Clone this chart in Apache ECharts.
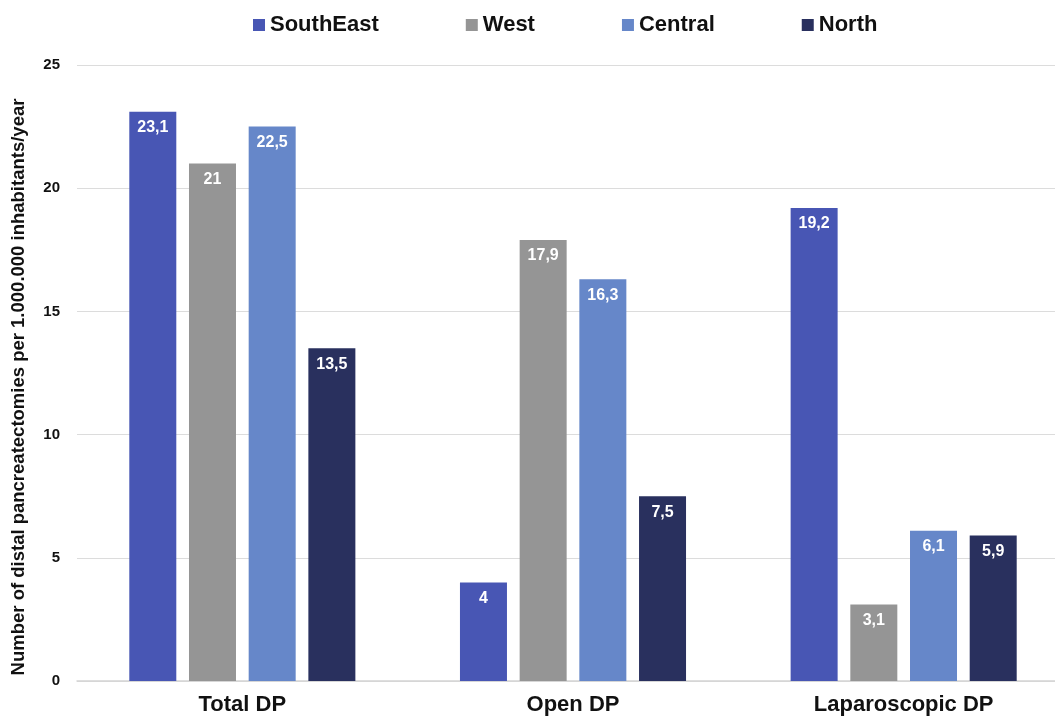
<!DOCTYPE html>
<html>
<head>
<meta charset="utf-8">
<script src="https://cdn.jsdelivr.net/npm/echarts@6/dist/echarts.min.js"></script>
<style>
  html, body { margin: 0; padding: 0; background: #fff; overflow: hidden; }
  /* the plot area runs a little past the right edge of the window */
  #chart { width: 1069px; height: 718px; }
</style>
</head>
<body>
<div id="chart"></div>
<script>
// Distal pancreatectomy rates by region
const categories = ['Total DP', 'Open DP', 'Laparoscopic DP'];
const southEast = [23.1, 4, 19.2];
const west = [21, 17.9, 3.1];
const central = [22.5, 16.3, 6.1];
const north = [13.5, 7.5, 5.9];
const yTicks = [0, 5, 10, 15, 20, 25];

const regions = [
  { name: 'SouthEast', data: southEast, color: '#4856B4' },
  { name: 'West', data: west, color: '#959595' },
  { name: 'Central', data: central, color: '#6687C9' },
  { name: 'North', data: north, color: '#29305E' }
];

const font = 'Liberation Sans, Arial, Helvetica, sans-serif';

const chart = echarts.init(document.getElementById('chart'));
chart.setOption({
  animation: false,
  textStyle: { fontFamily: font },
  legend: {
    top: 9,
    left: 248,
    itemWidth: 12,
    itemHeight: 12,
    itemGap: 87,
    icon: 'rect',
    textStyle: { fontSize: 22, fontWeight: 'bold', color: '#111', fontFamily: font }
  },
  grid: { left: 77, right: 0, top: 65, bottom: 37 },
  xAxis: {
    type: 'category',
    data: categories,
    axisTick: { show: false },
    axisLine: { lineStyle: { color: '#d4d4d4', width: 1.5 } },
    axisLabel: { fontSize: 22, fontWeight: 'bold', color: '#111', margin: 13 }
  },
  yAxis: {
    type: 'value',
    min: yTicks[0],
    max: yTicks[yTicks.length - 1],
    interval: 5,
    name: 'Number of distal pancreatectomies per 1.000.000 inhabitants/year',
    nameLocation: 'middle',
    nameGap: 49,
    nameTextStyle: { fontSize: 18.5, fontWeight: 'bold', color: '#111', padding: [0, 28, 0, 0] },
    axisLabel: { fontSize: 15, fontWeight: 'bold', color: '#111', margin: 17 },
    splitLine: { lineStyle: { color: '#dcdcdc', width: 1.2 } }
  },
  series: regions.map(r => ({
    name: r.name,
    type: 'bar',
    data: r.data,
    barWidth: 47,
    barGap: '27%',
    itemStyle: { color: r.color },
    label: {
      show: true,
      position: 'insideTop',
      distance: 8,
      color: '#fff',
      fontSize: 16,
      fontWeight: 'bold',
      formatter: p => String(p.value).replace('.', ',')
    }
  }))
});
</script>
</body>
</html>
